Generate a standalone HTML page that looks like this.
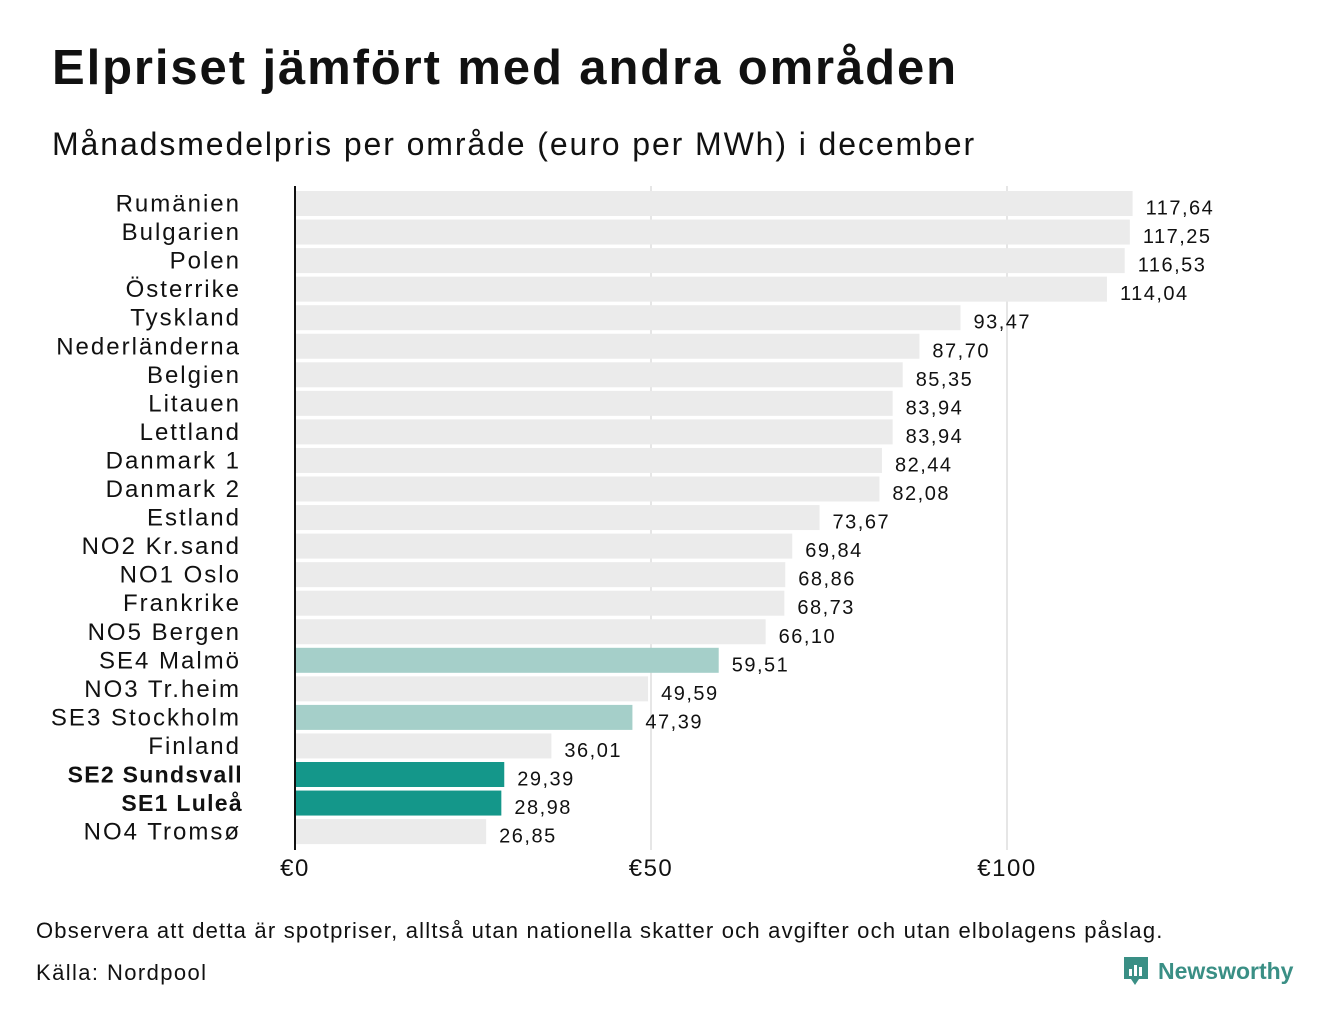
<!DOCTYPE html>
<html><head><meta charset="utf-8">
<style>
body{margin:0;background:#fff;width:1340px;height:1020px;overflow:hidden;font-family:"Liberation Sans","DejaVu Sans",sans-serif;color:#111}
#title{position:absolute;left:52px;top:40px;font-size:49px;font-weight:bold;margin:0;letter-spacing:1.9px}
#sub{position:absolute;left:52px;top:126px;font-size:32px;letter-spacing:1.9px}
#note{position:absolute;left:36px;top:918px;font-size:22px;letter-spacing:1.2px}
#src{position:absolute;left:36px;top:960px;font-size:22px;letter-spacing:1.4px}
#logo{position:absolute;left:1122px;top:955px;display:flex;align-items:center;gap:8px;color:#3a8f85;font-weight:bold;font-size:23px}
svg{position:absolute;left:0;top:0}
</style></head><body>
<h1 id="title">Elpriset jämfört med andra områden</h1>
<div id="sub">Månadsmedelpris per område (euro per MWh) i december</div>
<svg id="chart" width="1340" height="1020"></svg>
<div id="note">Observera att detta är spotpriser, alltså utan nationella skatter och avgifter och utan elbolagens påslag.</div>
<div id="src">Källa: Nordpool</div>
<div id="logo"><svg style="position:static" width="28" height="32" viewBox="0 0 28 32"><path d="M2 2h24v22h-9l-4 6-4-6H2z" fill="#3a8f85"/><rect x="7" y="14" width="3" height="7" fill="#fff"/><rect x="12" y="10" width="3" height="11" fill="#fff"/><rect x="17" y="12" width="3" height="9" fill="#fff"/></svg><span>Newsworthy</span></div>
<script>
const categories=["Rumänien","Bulgarien","Polen","Österrike","Tyskland","Nederländerna","Belgien","Litauen","Lettland","Danmark 1","Danmark 2","Estland","NO2 Kr.sand","NO1 Oslo","Frankrike","NO5 Bergen","SE4 Malmö","NO3 Tr.heim","SE3 Stockholm","Finland","SE2 Sundsvall","SE1 Luleå","NO4 Tromsø"];
const values=[117.64,117.25,116.53,114.04,93.47,87.70,85.35,83.94,83.94,82.44,82.08,73.67,69.84,68.86,68.73,66.10,59.51,49.59,47.39,36.01,29.39,28.98,26.85];
const highlight=["","","","","","","","","","","","","","","","","light","","light","","dark","dark",""];
const ticks=[0,50,100];
const tickLabels=["€0","€50","€100"];
const svg=document.getElementById('chart');
const NS='http://www.w3.org/2000/svg';
const x0=295,scale=7.12,top0=191,pitch=28.55,bh=25;
const xs=v=>x0+v*scale;
const ys=i=>top0+i*pitch;
function mk(t,a){const e=document.createElementNS(NS,t);for(const k in a)e.setAttribute(k,a[k]);svg.appendChild(e);return e;}
ticks.forEach((t,i)=>{
 if(t>0){const g=mk('line',{x1:xs(t),x2:xs(t),y1:186,y2:850,stroke:'#ccc','stroke-width':1});
 
 }
 const l=mk('text',{x:xs(t),y:876,'font-size':24,'letter-spacing':1.5,'text-anchor':'middle',fill:'#111'});l.textContent=tickLabels[i];
 
 
});
const col={"":"#ebebeb",light:"#a5cfc9",dark:"#14978a"};
categories.forEach((c,i)=>{
 const y=ys(i);
 const r=mk('rect',{x:x0,y:y,width:xs(values[i])-x0,height:bh,fill:col[highlight[i]]});
 
 
 const b=highlight[i]==='dark';
 const t=mk('text',{x:b?243:241,y:y+bh/2+8,'font-size':b?23:24,'letter-spacing':b?1.3:2,'font-weight':b?'bold':'normal','text-anchor':'end',fill:'#111'});t.textContent=c;
 
 
 const v=mk('text',{x:xs(values[i])+13,y:y+bh/2+11,'font-size':20,'letter-spacing':1.5,fill:'#111'});v.textContent=values[i].toFixed(2).replace('.',',');
 
 
});
const ax=mk('line',{x1:x0,x2:x0,y1:186,y2:850,stroke:'#111','stroke-width':2});


</script>
</body></html>
